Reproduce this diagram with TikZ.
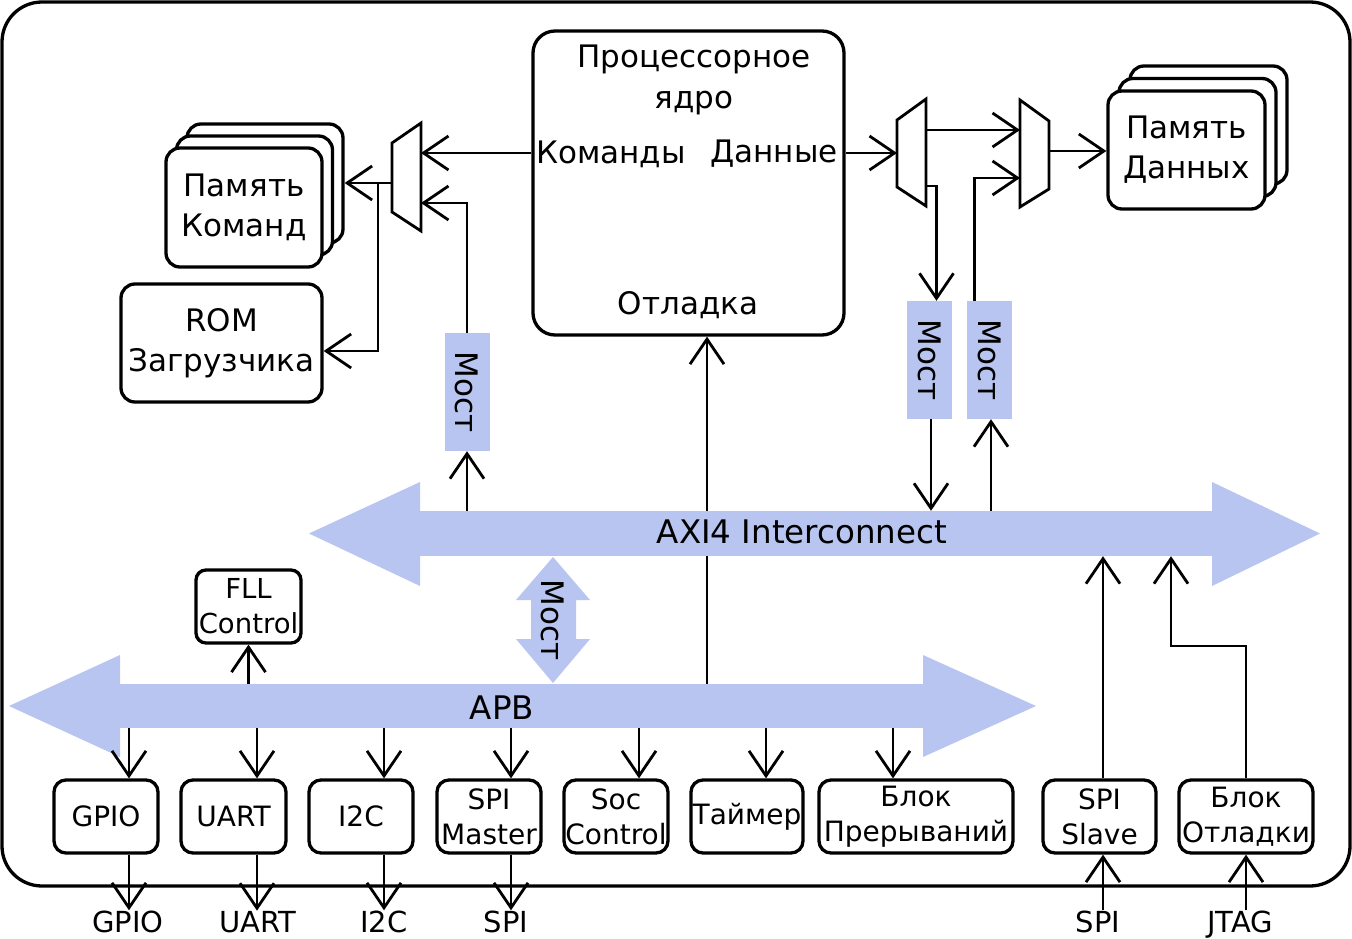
\documentclass[tikz,border=0pt]{standalone}
\usepackage{fontspec}
\setmainfont{DejaVu Sans}
\usepackage{tikz}
\usetikzlibrary{arrows.meta}
\definecolor{busblue}{RGB}{183,197,240}

\tikzset{
  arr/.style={line width=2.8pt, -{Straight Barb[length=25pt,width=34pt]}},
  box/.style={draw, line width=3.3pt, rounded corners=14pt, fill=white, inner sep=0pt, align=center,
    font=\fontsize{31}{40}\selectfont},
  sbox/.style={draw, line width=3.3pt, rounded corners=12pt, fill=white, inner sep=0pt, align=center,
    minimum height=73pt, font=\fontsize{28}{35}\selectfont},
  txt/.style={inner sep=0pt, align=center, font=\fontsize{31}{41}\selectfont},
  bustxt/.style={inner sep=0pt, font=\fontsize{32.5}{40}\selectfont},
  ltxt/.style={inner sep=0pt, font=\fontsize{29}{35}\selectfont},
  bridge/.style={fill=busblue, inner sep=0pt, minimum width=45pt, minimum height=118pt,
    font=\fontsize{31}{40}\selectfont},
  bus/.style={fill=busblue, inner sep=0pt},
  mux/.style={draw, line width=2.8pt, fill=white, line join=miter},
}

\begin{document}
\begin{tikzpicture}[x=1pt,y=-1pt]
\useasboundingbox (0,0) rectangle (1352,939);
\draw [line width=3.3pt, rounded corners=40pt] (2,2) rectangle (1350,886);

% processor core
\node [box, rounded corners=22pt, minimum width=311pt, minimum height=304pt] (core) at (688.5,183) {};
\node [txt] (coretitle) at (694,80) {Процессорное\\ядро};
\node [txt] (cmdport) at (611,154) {Команды};
\node [txt] (dataport) at (774,154) {Данные};
\node [txt] (dbgport) at (688,305) {Отладка};

% instruction memory and boot rom
\foreach \d in {2,1}
  \node [box, minimum width=156pt, minimum height=119pt] (imem\d) at (244+10.5*\d,207.5-12*\d) {};
\node [box, minimum width=156pt, minimum height=119pt] (imem) at (244,207.5) {Память\\Команд};
\node [box, minimum width=201pt, minimum height=118pt] (rom) at (221.5,343) {ROM\\Загрузчика};

% data memory
\foreach \d in {2,1}
  \node [box, minimum width=157pt, minimum height=118pt] (dmem\d) at (1186.5+11*\d,150-12.5*\d) {};
\node [box, minimum width=157pt, minimum height=118pt] (dmem) at (1186.5,150) {Память\\Данных};

% muxes
\draw [mux] (392,143) -- (421,123) -- (421,231) -- (392,212) -- cycle;
\coordinate (mlA) at (421,153);
\coordinate (mlB) at (421,203);
\coordinate (mlO) at (392,183);
\coordinate (jn) at (378,183);

\draw [mux] (897,120) -- (926,99) -- (926,206) -- (897,187) -- cycle;
\coordinate (m1I) at (897,153);
\coordinate (m1A) at (926,130);
\coordinate (m1B) at (926,186);

\draw [mux] (1020,100) -- (1049,121) -- (1049,189) -- (1020,207) -- cycle;
\coordinate (m2A) at (1020,130);
\coordinate (m2B) at (1020,178);
\coordinate (m2O) at (1049,151);

% bridges
\node [bridge] (brL) at (467,392) {\rotatebox{-90}{Мост}};
\node [bridge] (brR1) at (929.5,360) {\rotatebox{-90}{Мост}};
\node [bridge] (brR2) at (989.5,360) {\rotatebox{-90}{Мост}};

% AXI bus
\node [bus, minimum width=792pt, minimum height=45pt] (axi) at (816,533.5) {};
\fill [busblue] (420,482) -- (309,533.5) -- (420,586) -- cycle;
\fill [busblue] (1212,482) -- (1320,533.5) -- (1212,586) -- cycle;
\node [bustxt] (axitxt) at (802,532) {AXI4 Interconnect};

% APB bus
\node [bus, minimum width=803pt, minimum height=44pt] (apb) at (521.5,706) {};
\fill [busblue] (120,655) -- (9,706) -- (120,757) -- cycle;
\fill [busblue] (923,655) -- (1036,706) -- (923,757) -- cycle;
\node [bustxt] (apbtxt) at (502,708) {APB};

% AXI-APB bridge
\fill [busblue] (516,600) -- (553,557) -- (590,600) -- (576,600) -- (576,639) -- (590,639)
  -- (553,683) -- (516,639) -- (531,639) -- (531,600) -- cycle;
\node [txt, rotate=-90] (brA) at (553,620) {Мост};

% core side connectors
\draw [arr] (core.west |- mlA) -- (mlA);
\draw [arr] (brL.north) |- (mlB);
\draw [arr] (brL.south |- axi.north) -- (brL.south);
\draw [arr] (mlO) -- (imem2.east |- mlO);
\draw [arr] (jn) |- (rom.east |- 0,351);
\draw [arr] (core.east |- m1I) -- (m1I);
\draw [arr] (m1A) -- (m2A);
\draw [arr] (m1B) -| ([xshift=7pt]brR1.north);
\draw [arr] ([xshift=-15pt]brR2.north) |- (m2B);
\draw [arr] (m2O) -- (dmem.west |- m2O);
\draw [arr] ([xshift=1.5pt]brR1.south) -- ([xshift=1.5pt]brR1.south |- axi.north);
\draw [arr] ([xshift=1.5pt]brR2.south |- axi.north) -- ([xshift=1.5pt]brR2.south);
\draw [line width=2.8pt] (apb.north -| 707,0) -- (axi.south -| 707,0);
\draw [arr] (axi.north -| 707,0) -- (core.south -| 707,0);

% FLL
\node [sbox, minimum width=105pt, minimum height=73pt, rounded corners=10pt,
  font=\fontsize{27.5}{35}\selectfont] (fll) at (248.5,606.5) {FLL\\Control};
\draw [arr] (fll.south |- apb.north) -- (fll.south);

% APB peripherals
\foreach \name/\cx/\w/\ax/\txt in {gpio/106/104/129/GPIO, uart/233.5/105/257/UART,
  i2c/361/104/384/I2C, spim/489/104/511/{SPI\\Master}, socc/616/104/639/{Soc\\Control},
  tmr/747/112/766/Таймер, irq/916/194/893/{Блок\\Прерываний}}
{
\node [sbox, minimum width=\w pt] (\name) at (\cx,816.5) {\txt};
\draw [arr] (apb.south -| \ax,0) -- (\name.north -| \ax,0);
}

\foreach \name/\ax/\lx/\txt in {gpio/129/128/GPIO, uart/257/258/UART, i2c/384/384/I2C, spim/511/506/SPI}
{
\node [ltxt, anchor=base] (l\name) at (\lx,932) {\txt};
\draw [arr] (\name.south -| \ax,0) -- (l\name.north -| \ax,0);
}

% AXI masters
\node [sbox, minimum width=113pt] (spis) at (1099.5,816.5) {SPI\\Slave};
\node [sbox, minimum width=134pt] (dbg) at (1246,816.5) {Блок\\Отладки};
\node [ltxt, anchor=base] (lspis) at (1098,932) {SPI};
\node [ltxt, anchor=base] (ljtag) at (1240,932) {JTAG};
\draw [arr] (lspis.north -| 1103,0) -- (spis.south -| 1103,0);
\draw [arr] (spis.north -| 1103,0) -- (axi.south -| 1103,0);
\draw [arr] (ljtag.north -| 1246,0) -- (dbg.south -| 1246,0);
\draw [arr] (dbg.north -| 1246,0) |- (1171,646) -- (axi.south -| 1171,0);
\end{tikzpicture}
\end{document}
